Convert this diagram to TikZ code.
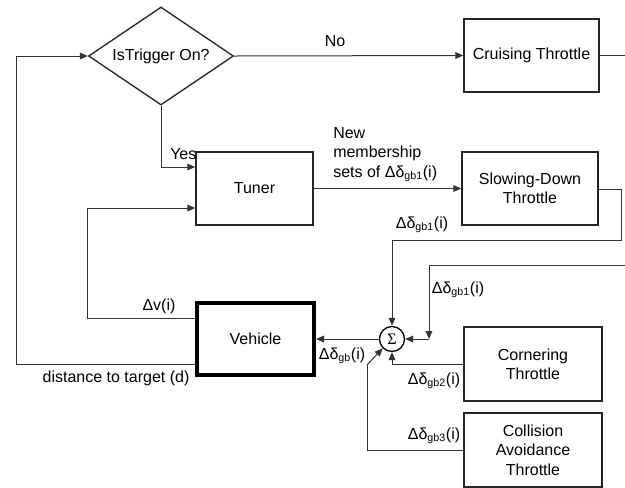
\documentclass[tikz,border=0pt]{standalone}
\usepackage{fontspec}
\setmainfont{Liberation Sans}
\newfontfamily\serifgr{Liberation Serif}
\usetikzlibrary{shapes.geometric,arrows.meta}
\newcommand{\dd}[1]{Δδ\textsubscript{#1}(i)}
\begin{document}
\begin{tikzpicture}[x=0.75pt,y=-0.75pt,
  font=\fontsize{12}{14.5}\selectfont,
  line/.style={draw=black!80, line width=0.75pt},
  arr/.style={line, -{Triangle[length=6pt,width=5pt]}},
  blk/.style={draw=black!85, line width=1pt, inner sep=0pt, align=center},
  lbl/.style={inner sep=0pt, align=left}]
\useasboundingbox (0,0) rectangle (625,487);
% nodes
\node[draw=black!85, line width=1pt, diamond, aspect=1.48, minimum width=145*0.75pt, minimum height=98*0.75pt, inner sep=0pt] (trig) at (161,56) {IsTrigger On?};
\node[blk, minimum width=135*0.75pt, minimum height=73*0.75pt] (cruise) at (531.5,55.5) {Cruising Throttle};
\node[blk, minimum width=117*0.75pt, minimum height=73*0.75pt] (tuner) at (254.5,188.5) {Tuner};
\node[blk, minimum width=136*0.75pt, minimum height=73*0.75pt] (slow) at (530,188.5) {Slowing-Down\\Throttle};
\node[draw=black, line width=3pt, inner sep=0pt, minimum width=117*0.75pt, minimum height=72*0.75pt] (veh) at (255.5,339) {Vehicle};
\node[draw=black, line width=1pt, circle, minimum size=25*0.75pt, inner sep=0pt, font=\serifgr\fontsize{12}{14}\selectfont] (sum) at (392,339) {Σ};
\node[blk, minimum width=138*0.75pt, minimum height=74*0.75pt] (corner) at (533,364) {Cornering\\Throttle};
\node[blk, minimum width=138*0.75pt, minimum height=74*0.75pt] (coll) at (533,450) {Collision\\Avoidance\\Throttle};
% coordinates
\coordinate (cr) at (625,55.5);
\coordinate (e1) at (625,265);
\coordinate (lfb) at (16,56);
\coordinate (dvk) at (87,208);
\coordinate (sr) at (621,189);
\coordinate (k2) at (429,339);
\coordinate (k3) at (367,365);
% connectors
\draw[arr] (trig.east) -- node[above=3pt, pos=0.44] {No} (cruise.west);
\draw[line] (cruise.east) -- (cr);
\draw[arr] (trig.south) |- (tuner.west |- 0,167);
\draw[arr] (tuner.east) -- (slow.west);
\draw[line] (slow.east |- sr) -- (sr) |- (392,240);
\draw[arr] (392,240) -- (sum.north);
\draw[arr] (e1) -| (k2);
\draw[arr] (k2) -- (sum.east);
\draw[arr] (corner.west) -| (sum.south);
\draw[line] (coll.west) -| (k3);
\draw[arr] (k3) -- (sum.south west);
\draw[arr] (sum.west) -- (veh.east);
\draw[arr] (veh.west |- 0,318) -| (dvk) -- (tuner.west |- dvk);
\draw[arr] (veh.west |- 0,364) -| (lfb) -- (trig.west);
% labels
\node[lbl, anchor=south west] at (333,182) {New\\membership\\sets of \dd{gb1}};
\node[lbl] at (170,154) [anchor=west] {Yes};
\node[lbl] at (422,225) {\dd{gb1}};
\node[lbl] at (458,290) {\dd{gb1}};
\node[lbl] at (342,356) {\dd{gb}};
\node[lbl] at (434,381) {\dd{gb2}};
\node[lbl] at (434,436) {\dd{gb3}};
\node[lbl] at (159,306) {Δv(i)};
\node[lbl] at (116,378) {distance to target (d)};
\end{tikzpicture}
\end{document}
